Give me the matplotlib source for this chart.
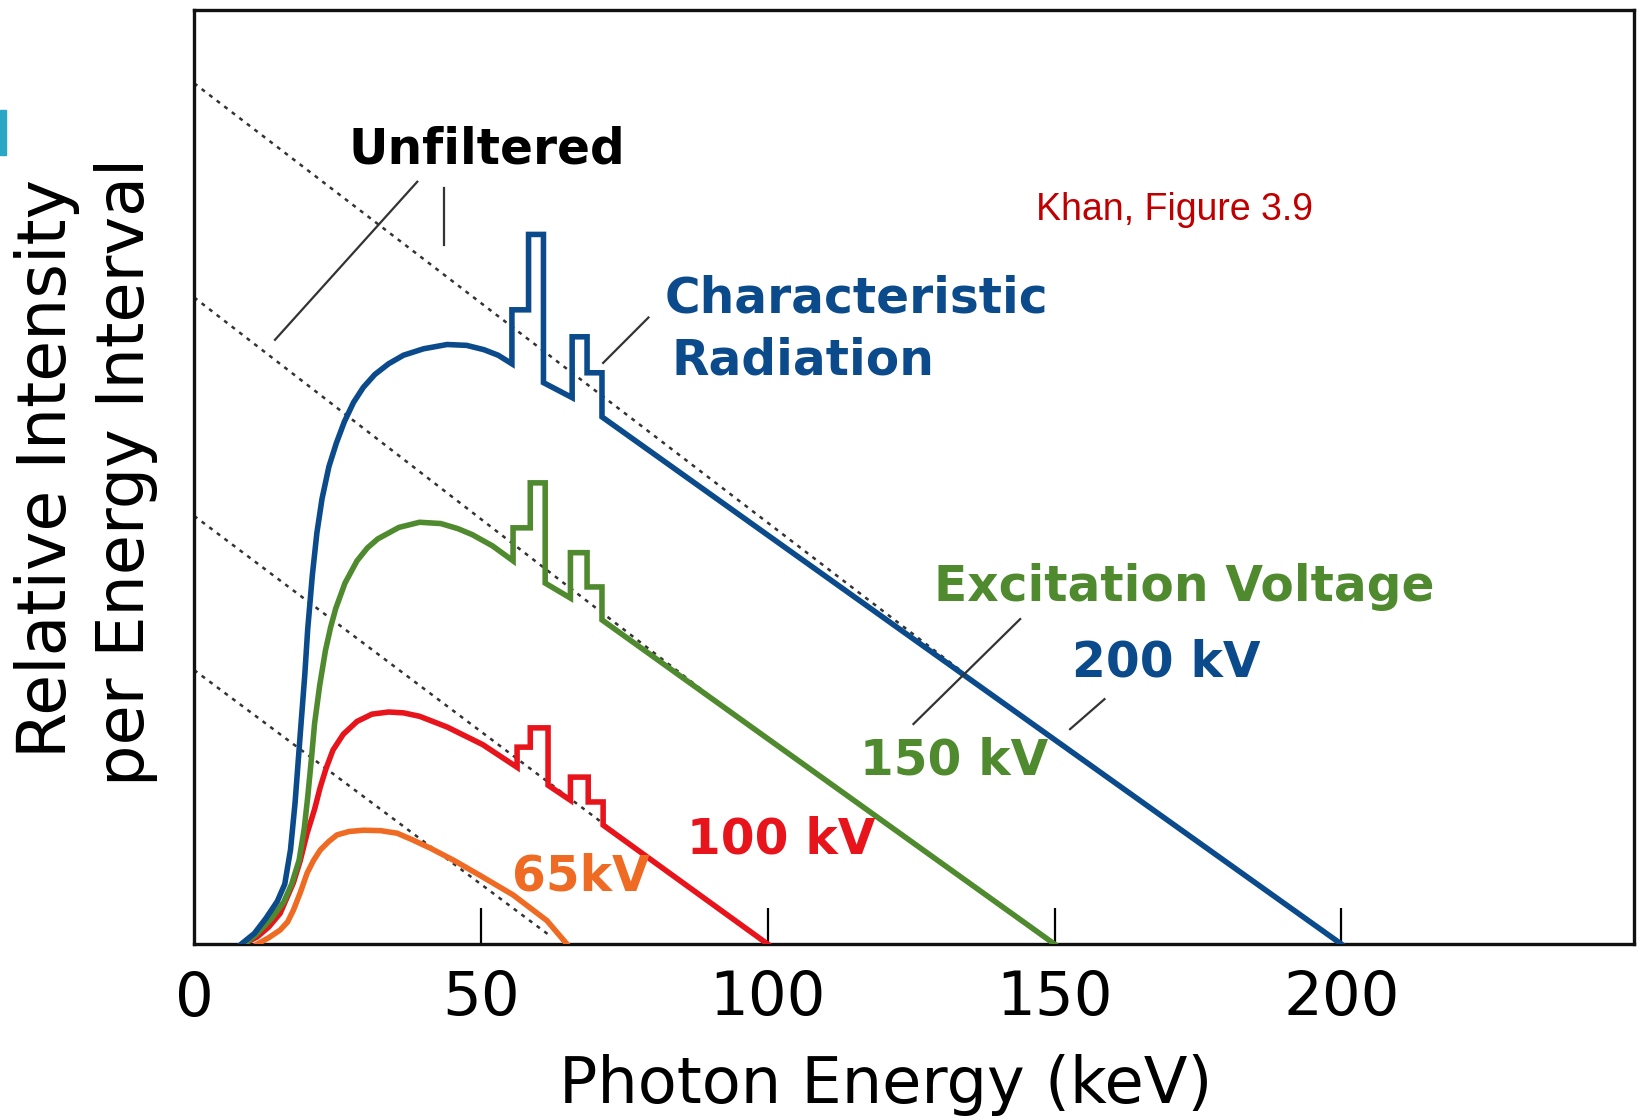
import matplotlib
matplotlib.use("Agg")
import matplotlib.pyplot as plt
from matplotlib.patches import Rectangle

# Photon energy (keV) / relative intensity
energy_200 = [8.2, 10.5, 12.5, 14.5, 15.8, 16.8, 17.6, 18.5, 19.3, 19.8, 20.6, 21.4, 22.3, 23.5, 24.8, 26.2,
              27.8, 29.5, 31.5, 33.9, 36.5, 40.0, 44.1, 47.5, 50.5, 53.0, 55.4,
              55.4, 58.3, 58.3, 60.9, 60.9, 65.9, 65.9, 68.5, 68.5, 71.1, 71.1, 200.0]
intensity_200 = [0, 2.5, 6.0, 10.0, 14.0, 22.0, 33.0, 49.0, 63.0, 73.5, 86.0, 96.0, 104.0, 111.5, 117.0, 122.0,
                 126.5, 130.0, 133.0, 135.5, 137.5, 139.0, 140.0, 139.8, 138.8, 137.5, 135.5,
                 148.1, 148.1, 165.7, 165.7, 131.1, 127.6, 141.8, 141.8, 133.4, 133.4, 123.1, 0]

energy_150 = [8.8, 11.0, 13.5, 15.6, 17.0, 18.3, 19.2, 19.8, 20.5, 21.0, 21.9, 22.9, 23.8, 24.7, 26.3,
              28.4, 30.2, 32.0, 35.7, 39.3, 43.0, 46.0, 48.5, 52.0, 55.6,
              55.6, 58.6, 58.6, 61.2, 61.2, 65.6, 65.6, 68.5, 68.5, 71.1, 71.1, 150.0]
intensity_150 = [0, 2.5, 6.0, 9.8, 14.0, 19.6, 27.0, 34.3, 44.0, 51.5, 60.5, 68.6, 74.0, 78.4, 84.3,
                 89.5, 92.5, 94.6, 97.3, 98.5, 98.2, 97.0, 95.6, 93.0, 89.5,
                 97.2, 97.2, 107.7, 107.7, 84.3, 80.8, 91.4, 91.4, 83.4, 83.4, 75.7, 0]

energy_100 = [8.6, 11.0, 13.0, 15.0, 17.3, 18.5, 19.7, 21.0, 22.0, 23.0, 24.2, 26.0, 28.4, 31.0, 33.9,
              36.5, 39.3, 44.1, 50.3, 56.3,
              56.3, 58.6, 58.6, 61.7, 61.7, 65.6, 65.6, 68.7, 68.7, 71.3, 71.3, 100.0]
intensity_100 = [0, 1.7, 4.0, 7.2, 14.3, 19.5, 25.9, 31.5, 36.7, 41.0, 45.3, 49.0, 52.0, 53.7, 54.2,
                 54.0, 53.2, 50.7, 46.6, 41.3,
                 46.0, 46.0, 50.5, 50.5, 37.1, 33.6, 39.0, 39.0, 33.2, 33.2, 27.8, 0]

energy_65 = [11.0, 13.0, 15.0, 16.3, 17.3, 18.5, 19.7, 20.8, 22.0, 23.5, 24.9, 27.0, 29.5, 32.5, 35.4,
             38.0, 41.2, 45.5, 49.9, 55.6, 61.5, 65.0]
intensity_65 = [0, 1.5, 3.3, 5.2, 7.9, 12.0, 16.6, 19.5, 22.0, 24.0, 25.5, 26.3, 26.6, 26.5, 25.9,
                24.4, 22.4, 19.4, 16.0, 11.5, 5.5, 0]

# unfiltered (dotted) spectra: start and end points
unfiltered_energy = {200: [0, 134], 150: [0, 94], 100: [0, 83], 65: [0, 62]}
unfiltered_intensity = {200: [201, 63.5], 150: [151, 53.7], 100: [100, 16.4], 65: [64, 2]}

x_ticks = [50, 100, 150, 200]
x_tick_labels = ["50", "100", "150", "200"]

blue = "#0B4A8B"
green = "#4F8A2F"
red = "#E8141C"
orange = "#EF6A22"
grey = "#333333"

fig = plt.figure(figsize=(16.45, 11.2), dpi=100)
ax = fig.add_axes([0.118, 0.157, 0.8753, 0.8337])
ax.set_xlim(0, 251)
ax.set_ylim(0, 218)

for kv in [200, 150, 100, 65]:
    ax.plot(unfiltered_energy[kv], unfiltered_intensity[kv], color=grey,
            linestyle=(0, (1.6, 2.2)), lw=1.8, zorder=2)

lw = 4.0
ax.plot(energy_65, intensity_65, color=orange, lw=lw, zorder=3, solid_joinstyle="miter")
ax.plot(energy_100, intensity_100, color=red, lw=lw, zorder=4, solid_joinstyle="miter")
ax.plot(energy_150, intensity_150, color=green, lw=lw, zorder=5, solid_joinstyle="miter")
ax.plot(energy_200, intensity_200, color=blue, lw=lw, zorder=6, solid_joinstyle="miter")

# leader lines
leaders = [([38.9, 14.1], [178.0, 141.1]),
           ([43.6, 43.6], [176.6, 163.3]),
           ([79.2, 71.3], [146.3, 135.7]),
           ([144.0, 125.4], [75.9, 51.4]),
           ([158.7, 152.7], [57.2, 50.2])]
for lx, ly in leaders:
    ax.plot(lx, ly, color=grey, lw=1.6, zorder=7)

# labels
ann = dict(fontsize=35, fontweight="bold", va="center", zorder=8)
ax.text(51.1, 185.5, "Unfiltered", color="black", ha="center", **ann)
ax.text(82.0, 150.7, "Characteristic", color=blue, ha="left", **ann)
ax.text(83.2, 136.2, "Radiation", color=blue, ha="left", **ann)
ax.text(129.0, 83.4, "Excitation Voltage", color=green, ha="left", **ann)
ax.text(153.1, 65.7, "200 kV", color=blue, ha="left", **ann)
ax.text(116.1, 42.9, "150 kV", color=green, ha="left", **ann)
ax.text(86.0, 24.5, "100 kV", color=red, ha="left", **ann)
ax.text(55.4, 15.7, "65kV", color=orange, ha="left", **ann)
ax.text(146.8, 171.5, "Khan, Figure 3.9", color="#C00000", ha="left", va="center",
        fontsize=27, family="Liberation Sans")

# axes styling
for sp in ax.spines.values():
    sp.set_linewidth(2.4)
    sp.set_color("#111111")
ax.set_xticks(x_ticks)
ax.set_xticklabels(x_tick_labels)
ax.tick_params(axis="x", direction="in", length=26, width=1.6, labelsize=44, pad=18)
ax.set_yticks([])
ax.text(0, -0.028, "0", transform=ax.get_xaxis_transform(), ha="center", va="top", fontsize=44)

ax.set_xlabel("Photon Energy (keV)", fontsize=46)
ax.xaxis.set_label_coords(0.48, -0.118)

fig.text(47 / 1645, 1 - 469 / 1120, "Relative Intensity", rotation=90, ha="center", va="center", fontsize=48)
fig.text(126 / 1645, 1 - 472 / 1120, "per Energy Interval", rotation=90, ha="center", va="center", fontsize=47)

# small cyan mark at the left edge
fig.patches.append(Rectangle((0, 1 - 155 / 1120), 6 / 1645, 45 / 1120, transform=fig.transFigure,
                             color="#2AA7C4", zorder=10))

fig.savefig("out.png", dpi=100)
